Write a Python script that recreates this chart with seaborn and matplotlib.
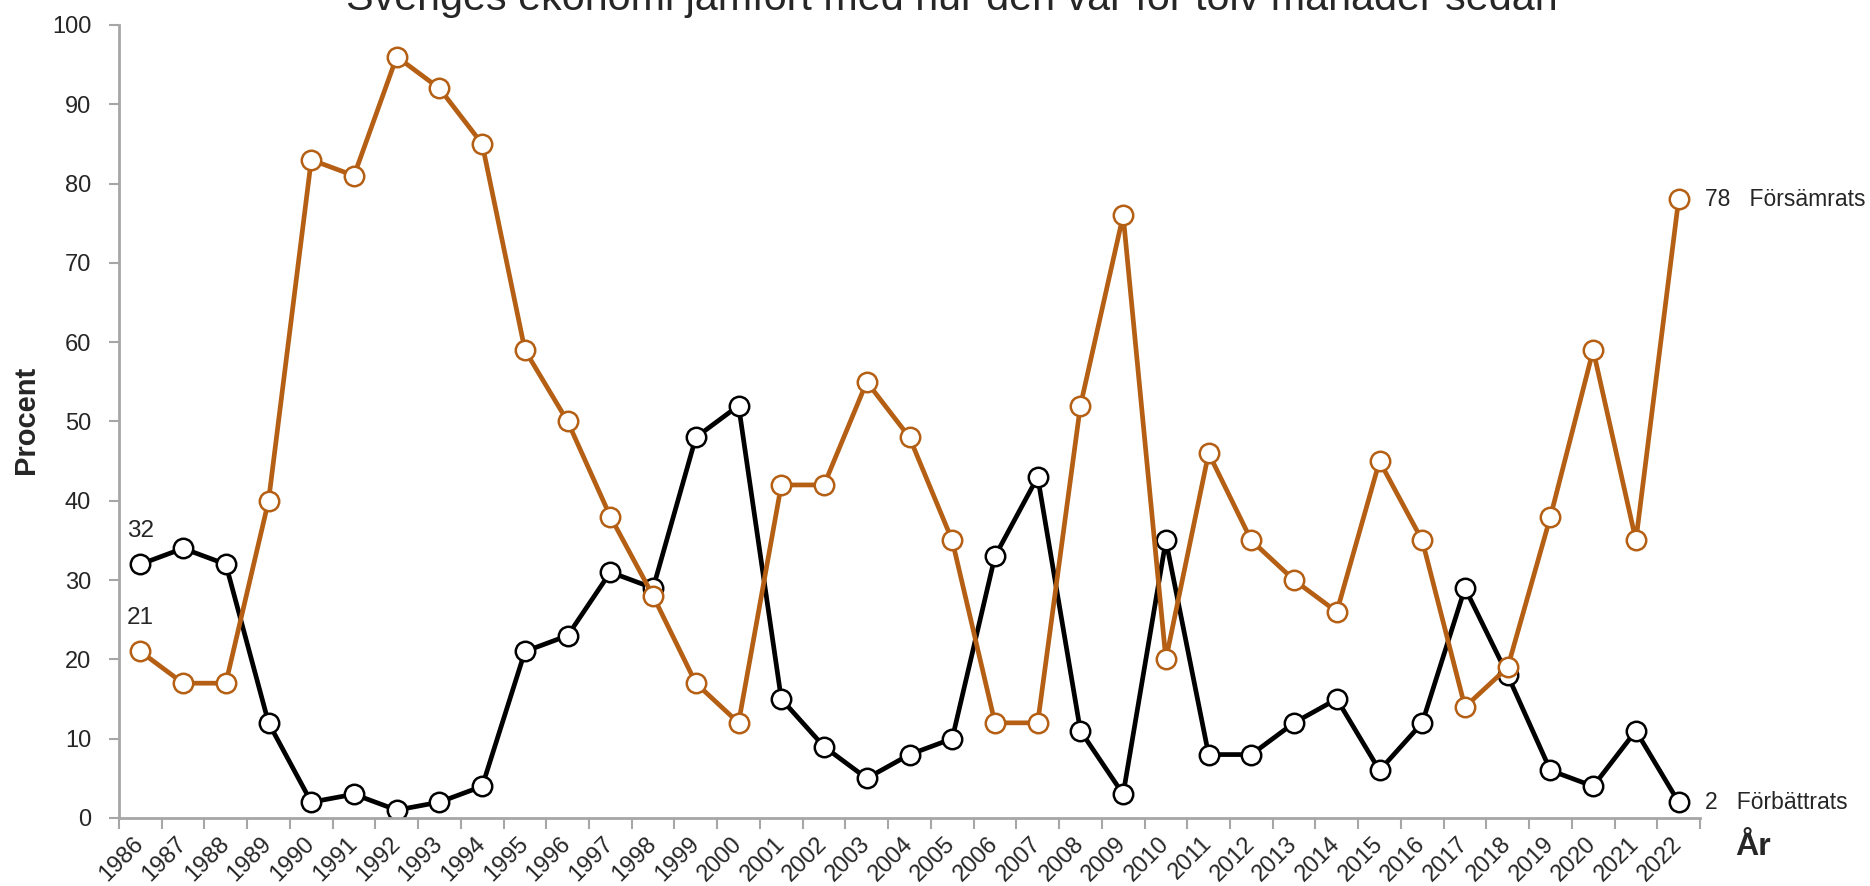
import matplotlib
matplotlib.use("Agg")
import matplotlib.pyplot as plt
import matplotlib.ticker as mticker
import seaborn as sns
import pandas as pd
import numpy as np

years = list(range(1986, 2023))
forbattrats = [32, 34, 32, 12, 2, 3, 1, 2, 4, 21, 23, 31, 29, 48, 52, 15, 9, 5, 8, 10,
               33, 43, 11, 3, 35, 8, 8, 12, 15, 6, 12, 29, 18, 6, 4, 11, 2]
forsamrats = [21, 17, 17, 40, 83, 81, 96, 92, 85, 59, 50, 38, 28, 17, 12, 42, 42, 55, 48, 35,
              12, 12, 52, 76, 20, 46, 35, 30, 26, 45, 35, 14, 19, 38, 59, 35, 78]
series_names = ["Förbättrats", "Försämrats"]
title = "Sveriges ekonomi jämfört med hur den var för tolv månader sedan"

sns.set_theme(style="white")
FONT = ["Liberation Sans", "DejaVu Sans"]
plt.rcParams["font.family"] = FONT

black = "#000000"
orange = "#B45F14"
axis_gray = "#A6A6A6"

pos = np.arange(len(years))
df = pd.DataFrame({
    "pos": np.concatenate([pos, pos]),
    "value": forbattrats + forsamrats,
    "serie": [series_names[0]] * len(years) + [series_names[1]] * len(years),
})

fig = plt.figure(figsize=(18.7, 8.86), dpi=100)
ax = fig.add_axes([119 / 1870, 1 - 818 / 886, (1700 - 119) / 1870, (818 - 25) / 886])

sns.lineplot(data=df, x="pos", y="value", hue="serie", palette=[black, orange],
             hue_order=series_names, ax=ax, linewidth=3.4, marker="o", markersize=14,
             markerfacecolor="white", markeredgewidth=1.8, legend=False)
for line, col in zip(ax.lines, [black, orange]):
    line.set_markeredgecolor(col)

ax.set_xlim(-0.5, len(years) - 0.5)
ax.set_ylim(0, 100)
ax.set_yticks(range(0, 101, 10))
ax.set_xticks(pos)
ax.set_xticklabels([str(y) for y in years], rotation=45, ha="right", va="center",
                   rotation_mode="anchor", fontsize=17)
ax.xaxis.set_minor_locator(mticker.FixedLocator(np.arange(-0.5, len(years), 1.0)))
ax.tick_params(axis="x", which="major", length=0, pad=16)
ax.tick_params(axis="x", which="minor", length=8, width=1.5, color=axis_gray, direction="out")
ax.tick_params(axis="y", length=7, width=1.5, color=axis_gray, direction="out", labelsize=17, pad=13)
ax.tick_params(left=True, bottom=True)
ax.xaxis.set_tick_params(which="minor", bottom=True)

for s in ["top", "right"]:
    ax.spines[s].set_visible(False)
for s in ["left", "bottom"]:
    ax.spines[s].set_color(axis_gray)
    ax.spines[s].set_linewidth(2)

ax.set_xlabel("")
ax.set_ylabel("")
fig.text(26 / 1870, 1 - 420 / 886, "Procent", rotation=90, ha="center", va="center",
         fontsize=21, fontweight="bold")

ax.annotate(str(forbattrats[0]), (pos[0], forbattrats[0]), xytext=(0, 24), textcoords="offset points",
            ha="center", va="center", fontsize=17.5)
ax.annotate(str(forsamrats[0]), (pos[0], forsamrats[0]), xytext=(0, 24), textcoords="offset points",
            ha="center", va="center", fontsize=17.5)
ax.annotate(f"{forsamrats[-1]}   {series_names[1]}", (pos[-1], forsamrats[-1]), xytext=(19, 0),
            textcoords="offset points", ha="left", va="center", fontsize=16.5,
            annotation_clip=False)
ax.annotate(f"{forbattrats[-1]}   {series_names[0]}", (pos[-1], forbattrats[-1]), xytext=(19, 0),
            textcoords="offset points", ha="left", va="center", fontsize=16.5,
            annotation_clip=False)

fig.text(1753 / 1870, 1 - 847 / 886, "År", ha="center", va="center", fontsize=23,
         fontweight="bold")
fig.text(952 / 1870, 1 - 10 / 886, title, ha="center", va="baseline", fontsize=29.7)

fig.savefig("out.png", dpi=100, facecolor="white")
